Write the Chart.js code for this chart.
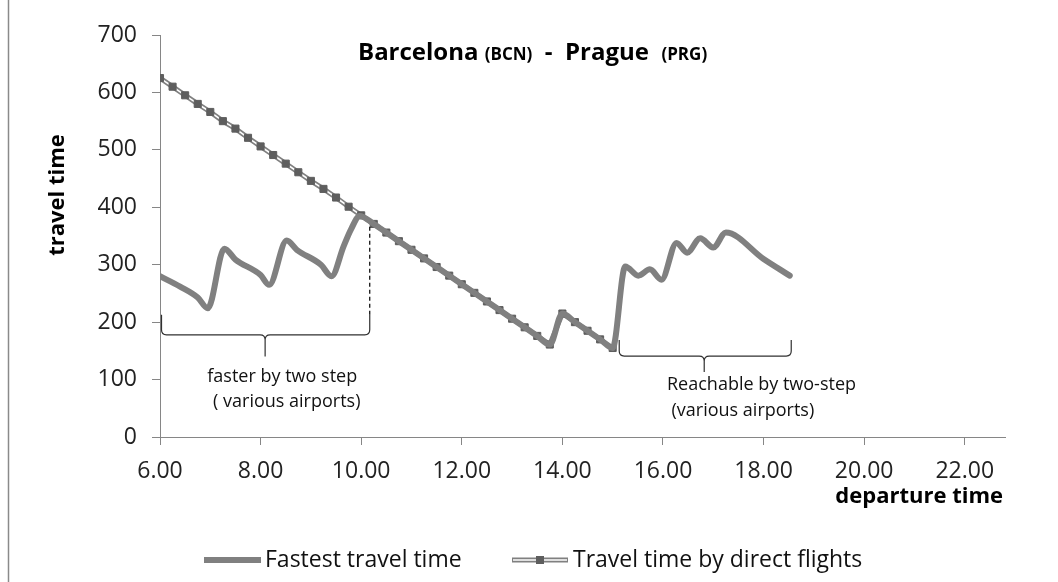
<!DOCTYPE html>
<html>
<head>
<meta charset="utf-8">
<title>Barcelona (BCN) - Prague (PRG)</title>
<script src="https://cdn.jsdelivr.net/npm/chart.js@4.4.1/dist/chart.umd.min.js"></script>
<style>
  html, body { margin: 0; padding: 0; background: #ffffff; }
  #wrap { width: 1058px; height: 582px; position: relative; }
</style>
</head>
<body>
<div id="wrap"><canvas id="chart" width="1058" height="582"></canvas></div>
<script>
// Departure time (hours) and travel time (minutes) for direct flights
const directTimes = [6.00, 6.25, 6.50, 6.75, 7.00, 7.25, 7.50, 7.75, 8.00, 8.25, 8.50, 8.75,
  9.00, 9.25, 9.50, 9.75, 10.00, 10.25, 10.50, 10.75, 11.00, 11.25, 11.50, 11.75,
  12.00, 12.25, 12.50, 12.75, 13.00, 13.25, 13.50, 13.75, 14.00, 14.25, 14.50, 14.75, 15.00];
const directValues = [625, 610, 595, 580, 566, 550, 537, 521, 506, 491, 476, 461,
  446, 432, 417, 401, 386, 371, 356, 341, 326, 311, 296, 281,
  266, 251, 236, 221, 206, 191, 176, 161, 215, 200, 185, 170, 155];

// Fastest travel time, including two-step connections
const fastestTimes = [6.00, 6.40, 6.75, 6.95, 7.28, 7.50, 8.00, 8.17, 8.52, 8.72, 9.20, 9.41,
  9.65, 9.80, 9.97, 10.25, 10.50, 10.75, 11.00, 11.25, 11.50, 11.75, 12.00, 12.25,
  12.50, 12.75, 13.00, 13.25, 13.50, 13.75, 14.00, 14.25, 14.50, 14.75, 15.00,
  15.25, 15.51, 15.74, 15.97, 16.27, 16.48, 16.74, 17.00, 17.25, 18.00, 18.52];
const fastestValues = [280, 262, 243, 224, 328, 309, 282, 265, 342, 326, 300, 280,
  332, 362, 385, 371, 356, 341, 326, 311, 296, 281, 266, 251,
  236, 221, 206, 191, 176, 161, 215, 200, 185, 170, 155,
  297, 281, 292, 274, 338, 321, 346, 330, 356, 310, 281];

const xTickHours = [6, 8, 10, 12, 14, 16, 18, 20, 22];
const xTickLabels = ['6.00', '8.00', '10.00', '12.00', '14.00', '16.00', '18.00', '20.00', '22.00'];
const yTickValues = [0, 100, 200, 300, 400, 500, 600, 700];
const seriesNames = ['Fastest travel time', 'Travel time by direct flights'];

const FONT = '"Open Sans", "Liberation Sans", sans-serif';
const AXIS_GREY = '#868686';
const LINE_GREY = '#808080';
const MARK_GREY = '#5e5e5e';

const toPoints = (xs, ys) => xs.map((x, i) => ({ x: x, y: ys[i] }));

// Horizontal curly brace: ends rise to yEnd, body on yLine, tip at (xc, yTip)
function brace(ctx, x1, x2, yEnd, yLine, xc, yTip) {
  const r = 5;
  ctx.beginPath();
  ctx.moveTo(x1, yEnd);
  ctx.lineTo(x1, yLine - r);
  ctx.quadraticCurveTo(x1, yLine, x1 + r, yLine);
  ctx.lineTo(xc - r, yLine);
  ctx.quadraticCurveTo(xc, yLine, xc, yLine + r);
  ctx.lineTo(xc, yTip);
  ctx.moveTo(xc, yLine + r);
  ctx.quadraticCurveTo(xc, yLine, xc + r, yLine);
  ctx.lineTo(x2 - r, yLine);
  ctx.quadraticCurveTo(x2, yLine, x2, yLine - r);
  ctx.lineTo(x2, yEnd);
  ctx.stroke();
}

const decor = {
  id: 'decor',
  afterDraw(chart) {
    const ctx = chart.ctx;
    const sx = chart.scales.x, sy = chart.scales.y;
    const X = v => sx.getPixelForValue(v);
    const Y = v => sy.getPixelForValue(v);
    ctx.save();

    // chart frame, left edge
    ctx.strokeStyle = '#8a8a8a';
    ctx.lineWidth = 1.5;
    ctx.beginPath();
    ctx.moveTo(8.5, 0);
    ctx.lineTo(8.5, 582);
    ctx.stroke();

    // title with smaller airport codes
    const segments = [
      { text: 'Barcelona ', small: false },
      { text: '(BCN)', small: true },
      { text: '  -  Prague  ', small: false },
      { text: '(PRG)', small: true }
    ];
    let tx = 358;
    ctx.fillStyle = '#000000';
    ctx.textAlign = 'left';
    ctx.textBaseline = 'alphabetic';
    segments.forEach(s => {
      ctx.font = 'bold ' + (s.small ? 17 : 24) + 'px ' + FONT;
      ctx.fillText(s.text, tx, 60);
      tx += ctx.measureText(s.text).width;
    });

    // axis titles
    ctx.font = 'bold 22px ' + FONT;
    ctx.save();
    ctx.translate(58, 195);
    ctx.rotate(-Math.PI / 2);
    ctx.textAlign = 'center';
    ctx.textBaseline = 'middle';
    ctx.fillText('travel time', 0, 0);
    ctx.restore();
    ctx.textAlign = 'right';
    ctx.textBaseline = 'alphabetic';
    ctx.fillText('departure time', 1003, 503);

    // braces and notes
    ctx.strokeStyle = '#303030';
    ctx.lineWidth = 1.2;
    brace(ctx, X(6.03), X(10.17), Y(213), Y(178), X(8.09), Y(140));
    ctx.setLineDash([4, 3]);
    ctx.strokeStyle = '#000000';
    ctx.beginPath();
    ctx.moveTo(X(10.17), Y(213));
    ctx.lineTo(X(10.17), Y(366));
    ctx.stroke();
    ctx.setLineDash([]);
    ctx.strokeStyle = '#303030';
    brace(ctx, X(15.13), X(18.55), Y(169), Y(141), X(16.82), Y(113));

    ctx.fillStyle = '#111111';
    ctx.font = '18px ' + FONT;
    ctx.textBaseline = 'middle';
    ctx.textAlign = 'center';
    ctx.fillText('faster by two step', X(8.43), Y(105));
    ctx.fillText('( various airports)', X(8.52), Y(61));
    ctx.textAlign = 'left';
    ctx.fillText('Reachable by two-step', X(16.08), Y(91));
    ctx.fillText('(various airports)', X(16.17), Y(45));

    // legend
    const ly = 560;
    ctx.lineCap = 'butt';
    ctx.strokeStyle = LINE_GREY;
    ctx.lineWidth = 6;
    ctx.beginPath(); ctx.moveTo(204, ly); ctx.lineTo(261, ly); ctx.stroke();
    ctx.lineWidth = 5;
    ctx.beginPath(); ctx.moveTo(512, ly); ctx.lineTo(568, ly); ctx.stroke();
    ctx.strokeStyle = '#ffffff';
    ctx.lineWidth = 1.6;
    ctx.beginPath(); ctx.moveTo(513, ly); ctx.lineTo(567, ly); ctx.stroke();
    ctx.fillStyle = MARK_GREY;
    ctx.fillRect(536, ly - 4, 8, 8);
    ctx.fillStyle = '#111111';
    ctx.font = '23px ' + FONT;
    ctx.textAlign = 'left';
    ctx.textBaseline = 'middle';
    ctx.fillText(seriesNames[0], 265, ly);
    ctx.fillText(seriesNames[1], 573, ly);

    ctx.restore();
  }
};

function build() {
  const tickFont = { family: FONT, size: 23 };
  new Chart(document.getElementById('chart'), {
    type: 'line',
    data: {
      datasets: [
        {
          label: seriesNames[0],
          data: toPoints(fastestTimes, fastestValues),
          borderColor: LINE_GREY,
          borderWidth: 6,
          borderCapStyle: 'round',
          borderJoinStyle: 'round',
          cubicInterpolationMode: 'monotone',
          pointRadius: 0,
          fill: false
        },
        {
          label: seriesNames[1],
          data: toPoints(directTimes, directValues),
          borderColor: '#ffffff',
          borderWidth: 1.6,
          tension: 0,
          pointStyle: 'rect',
          pointRadius: 5,
          pointBorderWidth: 1,
          pointBackgroundColor: MARK_GREY,
          pointBorderColor: MARK_GREY,
          fill: false
        },
        {
          label: seriesNames[1] + ' outline',
          data: toPoints(directTimes, directValues),
          borderColor: LINE_GREY,
          borderWidth: 5,
          tension: 0,
          pointRadius: 0,
          fill: false
        }
      ]
    },
    options: {
      responsive: false,
      animation: false,
      devicePixelRatio: 1,
      events: [],
      layout: { padding: { left: 0, top: 35, right: 53, bottom: 0 } },
      plugins: {
        legend: { display: false },
        title: { display: false },
        tooltip: { enabled: false }
      },
      scales: {
        x: {
          type: 'linear',
          min: 6,
          max: 22.8,
          afterBuildTicks: s => { s.ticks = xTickHours.map(v => ({ value: v })); },
          afterFit: s => { s.height = 145; },
          ticks: {
            font: tickFont,
            color: '#222222',
            padding: 13,
            maxRotation: 0,
            autoSkip: false,
            callback: (v, i) => xTickLabels[i]
          },
          grid: { display: true, drawOnChartArea: false, drawTicks: true, tickLength: 8, color: AXIS_GREY },
          border: { display: true, color: AXIS_GREY, width: 1 }
        },
        y: {
          min: 0,
          max: 700,
          afterBuildTicks: s => { s.ticks = yTickValues.map(v => ({ value: v })); },
          afterFit: s => { s.width = 160; },
          ticks: { font: tickFont, color: '#222222', padding: 15 },
          grid: { display: true, drawOnChartArea: false, drawTicks: true, tickLength: 8, color: AXIS_GREY },
          border: { display: true, color: AXIS_GREY, width: 1 }
        }
      }
    },
    plugins: [decor]
  });
}

Promise.all([
  document.fonts.load('23px "Open Sans"'),
  document.fonts.load('bold 24px "Open Sans"')
]).then(build, build);
</script>
</body>
</html>
